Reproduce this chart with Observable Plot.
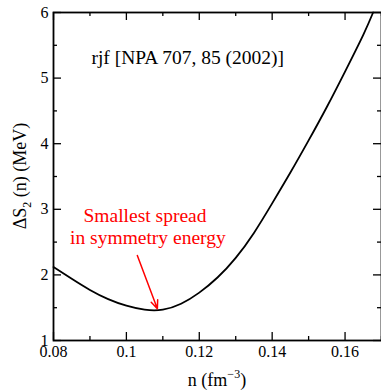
<!DOCTYPE html>
<html><head><meta charset="utf-8">
<script src="https://cdn.jsdelivr.net/npm/d3@7"></script>
<script src="https://cdn.jsdelivr.net/npm/@observablehq/plot@0.6"></script>
<style>body{margin:0;background:#fff;}</style>
</head><body><div id="chart"></div>
<script>
// data
const density = [0.080, 0.085, 0.090, 0.095, 0.100, 0.105, 0.110, 0.115, 0.120, 0.125, 0.130, 0.135, 0.140, 0.145, 0.150, 0.155, 0.160, 0.165, 0.1677];
const spread  = [2.12, 1.94, 1.77, 1.63, 1.53, 1.47, 1.47, 1.56, 1.73, 1.96, 2.26, 2.64, 3.09, 3.56, 4.05, 4.56, 5.10, 5.66, 6.0];
const xMajor = [0.08, 0.10, 0.12, 0.14, 0.16];
const xMinor = [0.09, 0.11, 0.13, 0.15, 0.17];
const xTickLabels = ["0.08", "0.1", "0.12", "0.14", "0.16"];
const yMajor = [1, 2, 3, 4, 5, 6];
const yMinor = [1.5, 2.5, 3.5, 4.5, 5.5];
const yTickLabels = ["1", "2", "3", "4", "5", "6"];
const refNote = ["rjf [NPA 707, 85 (2002)]"];
const noteLines = ["Smallest spread", "in symmetry energy"];

const curve = density.map((n, i) => ({n, s: spread[i]}));

const W = 381, H = 390, mT = 12, mB = 50, mL = 53, mR = 0;
const ph = H - mT - mB, pw = W - mL - mR;
const red = "#ff0000";
const serif = "'Liberation Serif', 'Times New Roman', serif";

const chart = Plot.plot({
  width: W, height: H,
  marginTop: mT, marginBottom: mB, marginLeft: mL, marginRight: mR,
  style: {fontFamily: serif, fontSize: "16px", background: "#fff", color: "#000", overflow: "visible"},
  x: {domain: [0.08, 0.17]},
  y: {domain: [1, 6]},
  marks: [
    // ticks (inward, all four sides)
    Plot.ruleX(xMajor, {x: d => d, insetTop: ph - 8, stroke: "#000", strokeWidth: 1.3}),
    Plot.ruleX(xMinor, {x: d => d, insetTop: ph - 4, stroke: "#000", strokeWidth: 1.3}),
    Plot.ruleX(xMajor, {x: d => d, insetBottom: ph - 8, stroke: "#000", strokeWidth: 1.3}),
    Plot.ruleX(xMinor, {x: d => d, insetBottom: ph - 4, stroke: "#000", strokeWidth: 1.3}),
    Plot.ruleY(yMajor, {y: d => d, insetRight: pw - 8, stroke: "#000", strokeWidth: 1.3}),
    Plot.ruleY(yMinor, {y: d => d, insetRight: pw - 4, stroke: "#000", strokeWidth: 1.3}),
    Plot.ruleY(yMajor, {y: d => d, insetLeft: pw - 8, stroke: "#000", strokeWidth: 1.3}),
    Plot.ruleY(yMinor, {y: d => d, insetLeft: pw - 4, stroke: "#000", strokeWidth: 1.3}),
    Plot.axisX({ticks: xMajor, tickSize: 0, tickPadding: 5, tickFormat: d => xTickLabels[xMajor.indexOf(d)], label: null, fontSize: 16, fontFamily: serif, fill: "#000"}),
    Plot.axisY({ticks: yMajor, tickSize: 0, tickPadding: 5, tickFormat: d => yTickLabels[yMajor.indexOf(d)], label: null, fontSize: 16, fontFamily: serif, fill: "#000"}),
    Plot.frame({stroke: "#000", strokeWidth: 1.8}),
    Plot.line(curve, {x: "n", y: "s", curve: "natural", stroke: "#000", strokeWidth: 1.8}),
    Plot.text(refNote, {text: d => d, x: 0.0904, y: 5.317, textAnchor: "start", fontSize: 19.5, fontFamily: serif, fill: "#000"}),
    Plot.text([noteLines[0]], {text: d => d, x: 0.1051, y: 2.898, fontSize: 19.5, fontFamily: serif, fill: red}),
    Plot.text([noteLines[1]], {text: d => d, x: 0.1059, y: 2.569, fontSize: 19.5, fontFamily: serif, fill: red}),
    Plot.arrow([0], {x1: 0.1030, y1: 2.296, x2: 0.1085, y2: 1.483, stroke: red, strokeWidth: 1.5, headLength: 9, headAngle: 45})
  ]
});

const svg = d3.select(chart);
// x-axis title with superscript
const xt = svg.append("text")
  .attr("x", mL + pw / 2).attr("y", 386)
  .attr("text-anchor", "middle")
  .attr("font-family", serif)
  .attr("font-size", 18).attr("fill", "#000");
xt.append("tspan").text("n (fm");
xt.append("tspan").attr("font-size", 12).attr("dy", -8).text("\u22123");
xt.append("tspan").attr("dy", 8).text(")");
// y-axis title with subscript
const yt = svg.append("text")
  .attr("transform", `translate(26,${mT + ph / 2}) rotate(-90)`)
  .attr("text-anchor", "middle")
  .attr("font-family", serif)
  .attr("font-size", 18).attr("fill", "#000");
yt.append("tspan").text("\u0394S");
yt.append("tspan").attr("font-size", 12).attr("dy", 5).text("2");
yt.append("tspan").attr("dy", -5).text(" (n) (MeV)");

document.getElementById("chart").appendChild(chart);
</script>
</body></html>
